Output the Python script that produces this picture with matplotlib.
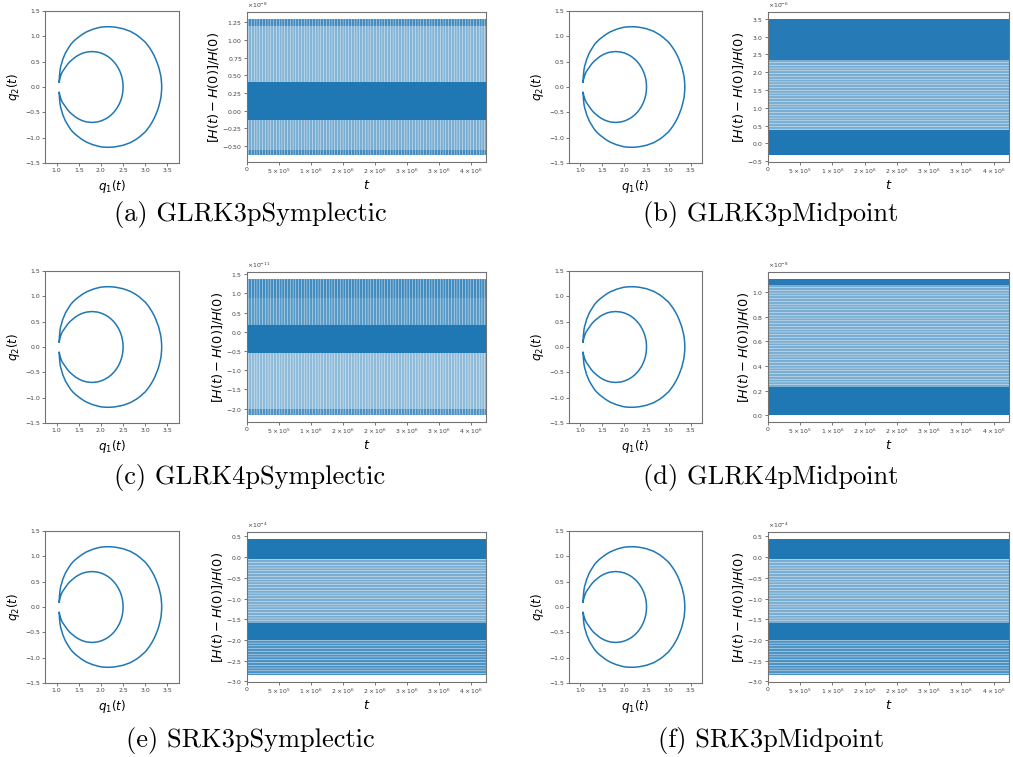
import numpy as np
import matplotlib
matplotlib.use('Agg')
import matplotlib.pyplot as plt
from matplotlib.ticker import ScalarFormatter, FixedLocator

# orbit (q1, q2); same orbit in every panel
outer_top = [(1.06, 0.10), (1.062, 0.16), (1.066, 0.22), (1.072, 0.28), (1.08, 0.34),
             (1.095, 0.41), (1.12, 0.48), (1.14, 0.545), (1.17, 0.61), (1.20, 0.67),
             (1.24, 0.73), (1.28, 0.785), (1.32, 0.84), (1.37, 0.89), (1.43, 0.94),
             (1.49, 0.98), (1.55, 1.02), (1.61, 1.055), (1.68, 1.09), (1.75, 1.115),
             (1.82, 1.14), (1.90, 1.16), (1.99, 1.18), (2.07, 1.187), (2.16, 1.19),
             (2.25, 1.187), (2.33, 1.18), (2.42, 1.165), (2.50, 1.15), (2.58, 1.125),
             (2.66, 1.10), (2.73, 1.065), (2.80, 1.03), (2.87, 0.985), (2.93, 0.94),
             (3.00, 0.885), (3.05, 0.83), (3.10, 0.77), (3.15, 0.70), (3.20, 0.62),
             (3.24, 0.54), (3.28, 0.45), (3.30, 0.40), (3.32, 0.33), (3.34, 0.26),
             (3.355, 0.19), (3.362, 0.13), (3.368, 0.065), (3.37, 0.0)]
outer_bottom = [(3.368, -0.065), (3.362, -0.13), (3.355, -0.19), (3.34, -0.26),
                (3.32, -0.33), (3.30, -0.40), (3.28, -0.45), (3.24, -0.54), (3.20, -0.62),
                (3.15, -0.70), (3.10, -0.77), (3.05, -0.83), (3.00, -0.885), (2.93, -0.94),
                (2.87, -0.985), (2.80, -1.03), (2.73, -1.065), (2.66, -1.10), (2.58, -1.125),
                (2.50, -1.15), (2.42, -1.165), (2.33, -1.18), (2.25, -1.187), (2.16, -1.19),
                (2.07, -1.187), (1.99, -1.18), (1.90, -1.16), (1.82, -1.14), (1.75, -1.115),
                (1.68, -1.09), (1.61, -1.055), (1.55, -1.02), (1.49, -0.98), (1.43, -0.94),
                (1.37, -0.89), (1.32, -0.84), (1.28, -0.785), (1.24, -0.73), (1.20, -0.67),
                (1.17, -0.61), (1.14, -0.545), (1.12, -0.48), (1.095, -0.41), (1.08, -0.34),
                (1.072, -0.28), (1.066, -0.22), (1.062, -0.16), (1.06, -0.10)]
inner_bottom = [(1.07, -0.15), (1.085, -0.20), (1.105, -0.25), (1.13, -0.30), (1.17, -0.35),
                (1.21, -0.40), (1.25, -0.45), (1.30, -0.50), (1.367, -0.55), (1.439, -0.60),
                (1.517, -0.64), (1.598, -0.67), (1.682, -0.69), (1.80, -0.70), (1.918, -0.69),
                (2.002, -0.67), (2.083, -0.64), (2.161, -0.60), (2.233, -0.55), (2.29, -0.50),
                (2.336, -0.45), (2.374, -0.40), (2.406, -0.35), (2.432, -0.30), (2.454, -0.25),
                (2.471, -0.20), (2.484, -0.15), (2.493, -0.10), (2.498, -0.05), (2.50, 0.0)]
inner_top = [(2.498, 0.05), (2.493, 0.10), (2.484, 0.15), (2.471, 0.20), (2.454, 0.25),
             (2.432, 0.30), (2.406, 0.35), (2.374, 0.40), (2.336, 0.45), (2.29, 0.50),
             (2.233, 0.55), (2.161, 0.60), (2.083, 0.64), (2.002, 0.67), (1.918, 0.69),
             (1.80, 0.70), (1.682, 0.69), (1.598, 0.67), (1.517, 0.64), (1.439, 0.60),
             (1.367, 0.55), (1.30, 0.50), (1.25, 0.45), (1.21, 0.40), (1.17, 0.35),
             (1.13, 0.30), (1.105, 0.25), (1.085, 0.20), (1.07, 0.15), (1.06, 0.10)]

# energy error bands: (low, high, density) in units of 10^exponent
t_end = 3.74e6
bands_a = [(-0.63, -0.55, 0.85), (-0.55, -0.13, 0.6), (-0.13, 0.40, 1.0),
           (0.40, 1.20, 0.55), (1.20, 1.30, 0.85)]
bands_b = [(-0.33, 0.37, 1.0), (0.37, 2.33, 0.6), (2.33, 3.50, 0.97)]
bands_c = [(-2.17, -2.0, 0.8), (-2.0, -0.56, 0.5), (-0.56, 0.18, 1.0),
           (0.18, 0.88, 0.75), (0.88, 1.38, 0.85)]
bands_d = [(0.0, 0.23, 1.0), (0.23, 1.06, 0.6), (1.06, 1.108, 0.97)]
bands_e = [(-2.85, -2.01, 0.8), (-2.01, -1.58, 1.0), (-1.58, -0.04, 0.6), (-0.04, 0.44, 1.0)]
bands_f = [(-2.85, -2.01, 0.8), (-2.01, -1.58, 1.0), (-1.58, -0.04, 0.6), (-0.04, 0.44, 1.0)]

exponents = [-8, -6, -11, -8, -4, -4]
ytick_steps = [0.25, 0.5, 0.5, 0.2, 0.5, 0.5]
captions = ['(a) GLRK3pSymplectic', '(b) GLRK3pMidpoint', '(c) GLRK4pSymplectic',
            '(d) GLRK4pMidpoint', '(e) SRK3pSymplectic', '(f) SRK3pMidpoint']

xticks = [0, 5e5, 1e6, 1.5e6, 2e6, 2.5e6, 3e6, 3.5e6]
xtick_labels = ['0', r'$5\times10^{5}$', r'$1\times10^{6}$', r'$2\times10^{6}$',
                r'$2\times10^{6}$', r'$3\times10^{6}$', r'$3\times10^{6}$', r'$4\times10^{6}$']

# texture of the lighter (less dense) stripes
hatches = ['||||||', '------', '||||||', '------', '------', '------']

plt.rcParams['hatch.linewidth'] = 0.3
plt.rcParams['hatch.color'] = 'white'

blue = np.array([31, 119, 180]) / 255.0


def shade(d):
    return tuple(d * blue + (1 - d) * np.ones(3))


W, H = 1013, 757
fig = plt.figure(figsize=(W / 100, H / 100), dpi=100)


def px_axes(l, t, r, b):
    return fig.add_axes([l / W, 1 - b / H, (r - l) / W, (b - t) / H])


def style(ax):
    for s in ax.spines.values():
        s.set_color('0.45')
        s.set_linewidth(0.8)
    ax.tick_params(labelsize=4.4, length=2, width=0.5, pad=1.5, colors='0.25')


row_top = [11, 271, 531]
row_bot = [163, 423, 683]
orbit_cols = [(45, 179), (569, 702)]
energy_cols = [(247, 486), (768, 1009)]
cap_y = [215, 477, 740]
cap_x = [250, 771]

all_bands = [bands_a, bands_b, bands_c, bands_d, bands_e, bands_f]
orbit = outer_top + outer_bottom + inner_bottom + inner_top
q1_vals = [p[0] for p in orbit]
q2_vals = [p[1] for p in orbit]

for k in range(6):
    row, col = k // 2, k % 2

    ax = px_axes(orbit_cols[col][0], row_top[row], orbit_cols[col][1], row_bot[row])
    ax.plot(q1_vals, q2_vals, color='#1f77b4', lw=1.1)
    ax.set_xlim(0.74, 3.76)
    ax.set_ylim(-1.5, 1.5)
    ax.set_xticks([1.0, 1.5, 2.0, 2.5, 3.0, 3.5])
    ax.set_yticks([-1.5, -1.0, -0.5, 0.0, 0.5, 1.0, 1.5])
    ax.set_xlabel(r'$q_1(t)$', fontsize=8.6, labelpad=3.5)
    ax.set_ylabel(r'$q_2(t)$', fontsize=8.6, labelpad=2)
    style(ax)

    ax2 = px_axes(energy_cols[col][0], row_top[row] + 1, energy_cols[col][1], row_bot[row] - 1)
    scale = 10.0 ** exponents[k]
    for lo, hi, d in all_bands[k]:
        if d < 0.9:
            ax2.fill_between([0, t_end], lo * scale, hi * scale, facecolor=shade(d),
                             hatch=hatches[k], edgecolor='white', lw=0)
        else:
            ax2.fill_between([0, t_end], lo * scale, hi * scale, color=shade(d), lw=0)
    ax2.set_xlim(0, t_end)
    lo_all = min(b[0] for b in all_bands[k])
    hi_all = max(b[1] for b in all_bands[k])
    pad = 0.05 * (hi_all - lo_all)
    ax2.set_ylim((lo_all - pad) * scale, (hi_all + pad) * scale)
    step = ytick_steps[k]
    ticks = np.arange(np.ceil((lo_all - pad) / step) * step,
                      (hi_all + pad) + 1e-9, step)
    ax2.yaxis.set_major_locator(FixedLocator(ticks * scale))
    fmt = ScalarFormatter(useMathText=True)
    fmt.set_powerlimits((0, 0))
    ax2.yaxis.set_major_formatter(fmt)
    ax2.yaxis.get_offset_text().set_fontsize(4.4)
    ax2.set_xticks(xticks)
    ax2.set_xticklabels(xtick_labels)
    ax2.set_xlabel(r'$t$', fontsize=9.3, labelpad=2)
    ax2.set_ylabel(r'$[H(t)-H(0)]/H(0)$', fontsize=9.3, labelpad=0.5)
    style(ax2)

    fig.text(cap_x[col] / W, 1 - cap_y[row] / H, captions[k], ha='center', va='center',
             fontfamily='cmr10', fontsize=19)

fig.savefig('out.png', dpi=100)
